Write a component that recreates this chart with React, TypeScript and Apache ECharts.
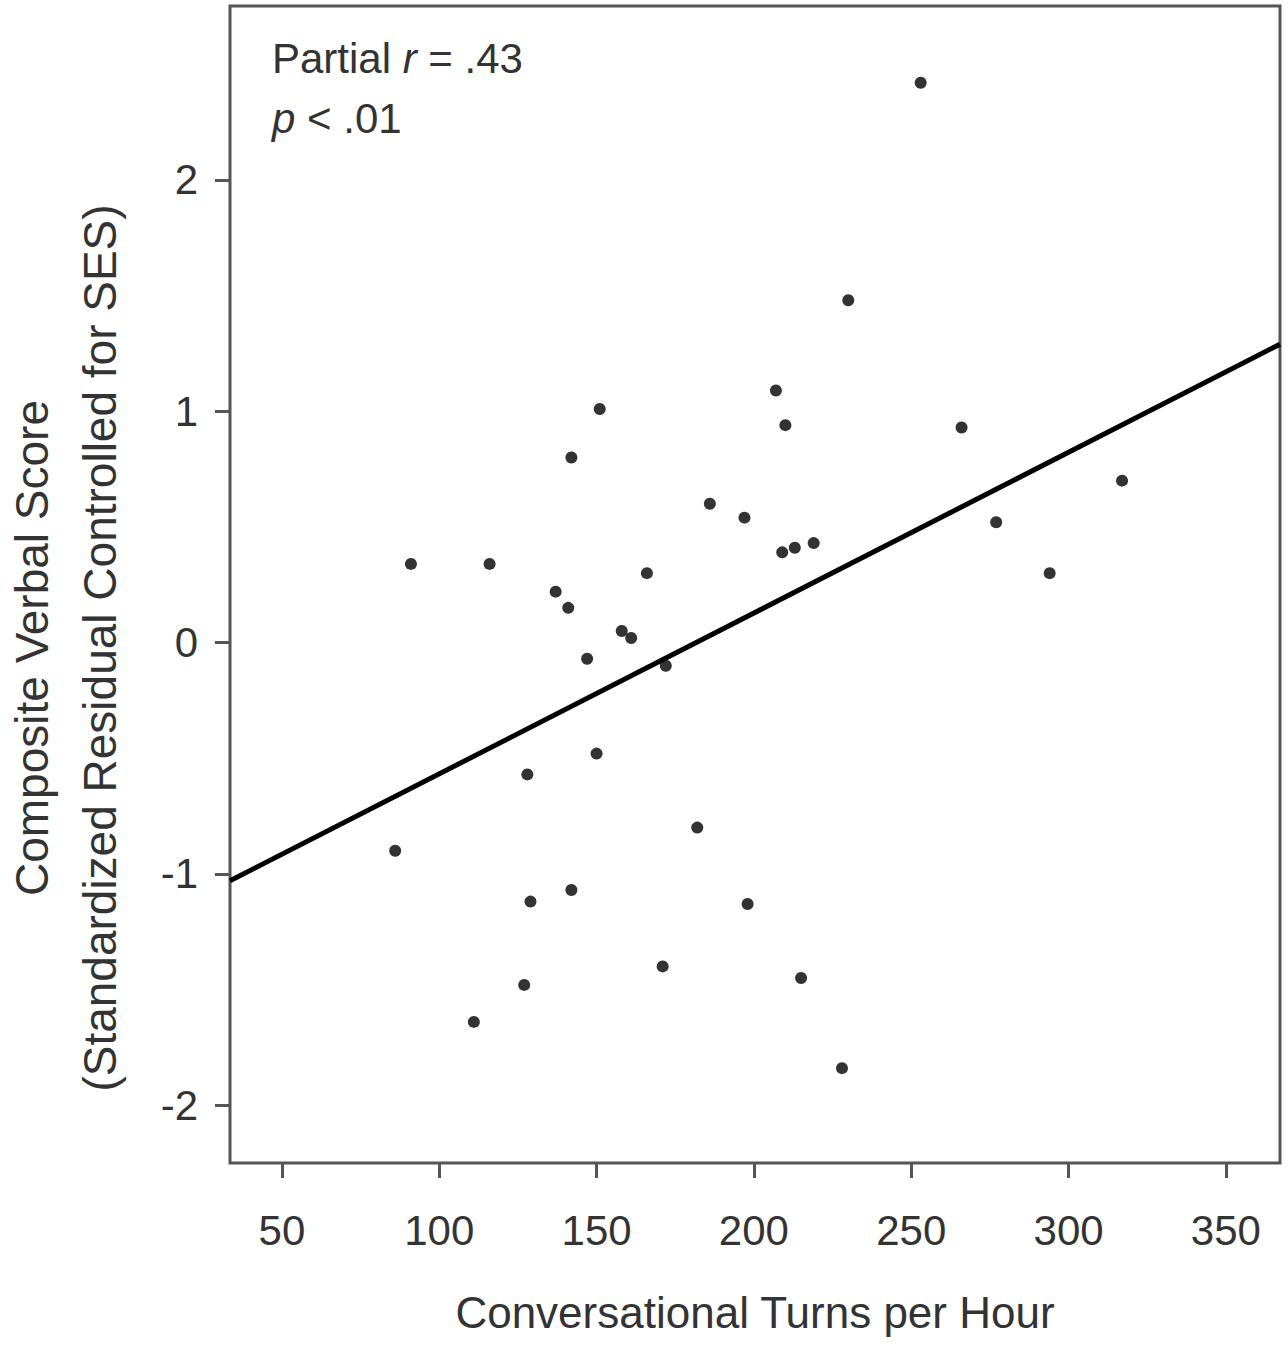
import { useEffect, useRef } from 'react';
import * as echarts from 'echarts';

const turnsPerHour = [91, 86, 116, 111, 137, 141, 142, 151, 147, 158, 161, 166, 172, 150, 128, 129, 142, 127, 171, 182, 186, 197, 198, 207, 210, 209, 213, 219, 215, 228, 230, 253, 266, 277, 294, 317];
const verbalScore = [0.34, -0.9, 0.34, -1.64, 0.22, 0.15, 0.8, 1.01, -0.07, 0.05, 0.02, 0.3, -0.1, -0.48, -0.57, -1.12, -1.07, -1.48, -1.4, -0.8, 0.6, 0.54, -1.13, 1.09, 0.94, 0.39, 0.41, 0.43, -1.45, -1.84, 1.48, 2.42, 0.93, 0.52, 0.3, 0.7];
const fitX = [33.5, 367.2];
const fitY = [-1.03, 1.29];
const xTicks = [50, 100, 150, 200, 250, 300, 350];
const yTicks = [-2, -1, 0, 1, 2];

const FONT = '"Liberation Sans Narrow", "Liberation Sans", Arial, sans-serif';
const INK = '#333';

export default function App() {
  const chartRef = useRef<HTMLDivElement>(null);

  useEffect(() => {
    document.body.style.margin = '0';
    if (!chartRef.current) return;
    const chart = echarts.init(chartRef.current, undefined, { renderer: 'svg' });
    const tickStyle = { show: true, length: 15, lineStyle: { color: '#555', width: 3 } };
    chart.setOption({
      animation: false,
      grid: { left: 230, top: 6, right: 8, bottom: 185, show: true, borderColor: '#555', borderWidth: 3 },
      xAxis: {
        type: 'value', min: 33.5, max: 367.2,
        axisLine: { show: false, onZero: false },
        splitLine: { show: false },
        axisTick: { ...tickStyle, customValues: xTicks },
        axisLabel: { customValues: xTicks, margin: 46, fontSize: 42, color: INK, fontFamily: FONT },
      },
      yAxis: {
        type: 'value', min: -2.25, max: 2.752,
        axisLine: { show: false, onZero: false },
        splitLine: { show: false },
        axisTick: { ...tickStyle, customValues: yTicks },
        axisLabel: { customValues: yTicks, margin: 32, fontSize: 42, color: INK, fontFamily: FONT },
      },
      series: [
        {
          type: 'line', data: fitX.map((x, i) => [x, fitY[i]]), showSymbol: false,
          lineStyle: { color: '#000', width: 5 }, silent: true,
        },
        {
          type: 'scatter', data: turnsPerHour.map((x, i) => [x, verbalScore[i]]),
          symbolSize: 12, itemStyle: { color: '#000' },
        },
      ],
      graphic: [
        {
          type: 'text', left: 272, top: 28,
          style: {
            text: 'Partial {i|r} = .43\n{i|p} < .01', fontSize: 42, lineHeight: 60, fill: INK, fontFamily: FONT,
            rich: { i: { fontStyle: 'italic', fontSize: 42, fill: INK, fontFamily: FONT } },
          },
        },
        {
          type: 'text', x: 755, y: 1312,
          style: { text: 'Conversational Turns per Hour', fontSize: 44, fill: INK, fontFamily: FONT, align: 'center', verticalAlign: 'middle' },
        },
        {
          type: 'text', x: 32, y: 648, rotation: Math.PI / 2,
          style: { text: 'Composite Verbal Score', fontSize: 46, fill: INK, fontFamily: FONT, align: 'center', verticalAlign: 'middle' },
        },
        {
          type: 'text', x: 100, y: 648, rotation: Math.PI / 2,
          style: { text: '(Standardized Residual Controlled for SES)', fontSize: 46, fill: INK, fontFamily: FONT, align: 'center', verticalAlign: 'middle' },
        },
      ],
    });
    return () => chart.dispose();
  }, []);

  return <div ref={chartRef} style={{ width: 1288, height: 1348 }}></div>;
}
